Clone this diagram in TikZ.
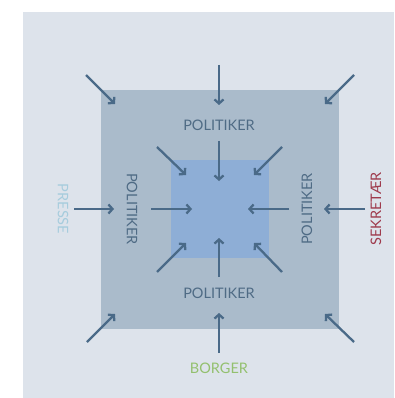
\documentclass[tikz,border=0pt]{standalone}
\usepackage{fontspec}
\setmainfont{Lato}
\usetikzlibrary{arrows.meta}
\definecolor{bgc}{HTML}{DDE3EB}
\definecolor{outerc}{HTML}{AABBCB}
\definecolor{innerc}{HTML}{8EAED6}
\definecolor{arrc}{HTML}{4A6A88}
\definecolor{txtc}{HTML}{4F6B85}
\definecolor{pressc}{HTML}{A6CCDD}
\definecolor{sekc}{HTML}{9E3A4C}
\definecolor{borgc}{HTML}{93C06E}
\tikzset{
  arr/.style={draw=arrc, line width=2.3pt, -{Straight Barb[length=4pt,width=9pt,line join=miter]}},
  lbl/.style={font=\fontsize{14.5}{16}\selectfont, text=txtc, inner sep=0pt},
}
\begin{document}
\begin{tikzpicture}[x=1pt,y=-1pt]
\useasboundingbox (0,0) rectangle (394,398);
\fill[bgc] (23,12) rectangle (394,398);
\fill[outerc] (101,90) rectangle (339,329);
\fill[innerc] (171,160) rectangle (269,258);
% outer arrows
\coordinate (o1s) at (219,65); \coordinate (o1e) at (219,105);
\coordinate (o2s) at (86,75); \coordinate (o2e) at (115,104);
\coordinate (o3s) at (354,75); \coordinate (o3e) at (325,104);
\coordinate (o4s) at (87,342); \coordinate (o4e) at (115,314);
\coordinate (o5s) at (354,342); \coordinate (o5e) at (325,314);
\coordinate (o6s) at (219,353); \coordinate (o6e) at (219,313);
\coordinate (o7s) at (74,209); \coordinate (o7e) at (114,209);
\coordinate (o8s) at (365,209); \coordinate (o8e) at (324,209);
\foreach \i in {1,...,8} \draw[arr] (o\i s) -- (o\i e);
% inner arrows
\coordinate (i1s) at (219,141); \coordinate (i1e) at (219,181);
\coordinate (i2s) at (157,147); \coordinate (i2e) at (186,175);
\coordinate (i3s) at (282,147); \coordinate (i3e) at (254,175);
\coordinate (i4s) at (151,209); \coordinate (i4e) at (192,209);
\coordinate (i5s) at (289,209); \coordinate (i5e) at (248,209);
\coordinate (i6s) at (157,272); \coordinate (i6e) at (186,243);
\coordinate (i7s) at (219,277); \coordinate (i7e) at (219,238);
\coordinate (i8s) at (282,272); \coordinate (i8e) at (254,243);
\foreach \i in {1,...,8} \draw[arr] (i\i s) -- (i\i e);
% labels
\node[lbl] (pt) at (219,125) {POLITIKER};
\node[lbl] (pb) at (219,293) {POLITIKER};
\node[lbl, rotate=-90] (pl) at (132,209) {POLITIKER};
\node[lbl, rotate=90] (pr) at (307,209) {POLITIKER};
\node[lbl, rotate=-90, text=pressc] (presse) at (63,209) {PRESSE};
\node[lbl, rotate=90, text=sekc] (sek) at (376,209) {SEKRETÆR};
\node[lbl, text=borgc] (borger) at (219,368) {BORGER};
\end{tikzpicture}
\end{document}
